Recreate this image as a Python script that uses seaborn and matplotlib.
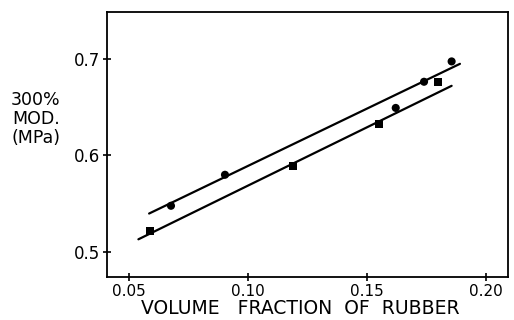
import matplotlib
matplotlib.use("Agg")
import matplotlib.pyplot as plt
import seaborn as sns
import pandas as pd

# Measured 300% modulus vs. volume fraction of rubber
circle_x = [0.0676, 0.0903, 0.1621, 0.1740, 0.1856]
circle_y = [0.548, 0.580, 0.649, 0.676, 0.697]
square_x = [0.0587, 0.1189, 0.1549, 0.1800]
square_y = [0.522, 0.589, 0.632, 0.676]

# Straight-line fits (end points of each line)
upper_x = [0.0584, 0.1891]
upper_y = [0.540, 0.6945]
lower_x = [0.0539, 0.1856]
lower_y = [0.5134, 0.6718]

x_ticks = [0.05, 0.10, 0.15, 0.20]
x_tick_labels = ["0.05", "0.10", "0.15", "0.20"]
y_ticks = [0.5, 0.6, 0.7]
y_tick_labels = ["0.5", "0.6", "0.7"]

sns.set_theme(style="ticks")
plt.rcParams["font.family"] = ["DejaVu Sans"]
plt.rcParams["text.color"] = "black"

fig = plt.figure(figsize=(5.14, 3.20), dpi=100)
ax = fig.add_axes([0.2082, 0.1344, 0.7801, 0.8281])

pts = pd.concat([
    pd.DataFrame({"x": circle_x, "y": circle_y, "set": "circle"}),
    pd.DataFrame({"x": square_x, "y": square_y, "set": "square"}),
])
lines = pd.concat([
    pd.DataFrame({"x": upper_x, "y": upper_y, "fit": "upper"}),
    pd.DataFrame({"x": lower_x, "y": lower_y, "fit": "lower"}),
])

sns.lineplot(data=lines, x="x", y="y", units="fit", estimator=None,
             color="black", linewidth=1.6, ax=ax, legend=False)
sns.scatterplot(data=pts, x="x", y="y", style="set",
                markers={"circle": "o", "square": "s"},
                color="black", s=34, edgecolor="black", linewidth=0,
                ax=ax, legend=False)

ax.set_xlim(0.0407, 0.2093)
ax.set_ylim(0.4745, 0.748)
ax.set_xticks(x_ticks)
ax.set_xticklabels(x_tick_labels)
ax.set_yticks(y_ticks)
ax.set_yticklabels(y_tick_labels)

for sp in ax.spines.values():
    sp.set_visible(True)
    sp.set_linewidth(1.3)
    sp.set_color("black")

ax.tick_params(axis="both", direction="inout", length=6, width=1.2,
               colors="black", pad=2)
ax.tick_params(axis="y", labelsize=12)
ax.tick_params(axis="x", labelsize=11, pad=2)

ax.set_xlabel("")
ax.set_ylabel("")
fig.text(300 / 514, 0.0375, "VOLUME   FRACTION  OF  RUBBER",
         ha="center", va="center", fontsize=13.5, color="black")
fig.text(0.070, 0.628, "300%\nMOD.\n(MPa)", ha="center", va="center",
         fontsize=12.5, linespacing=1.1, color="black")

fig.savefig("out.png", dpi=100, facecolor="white")
